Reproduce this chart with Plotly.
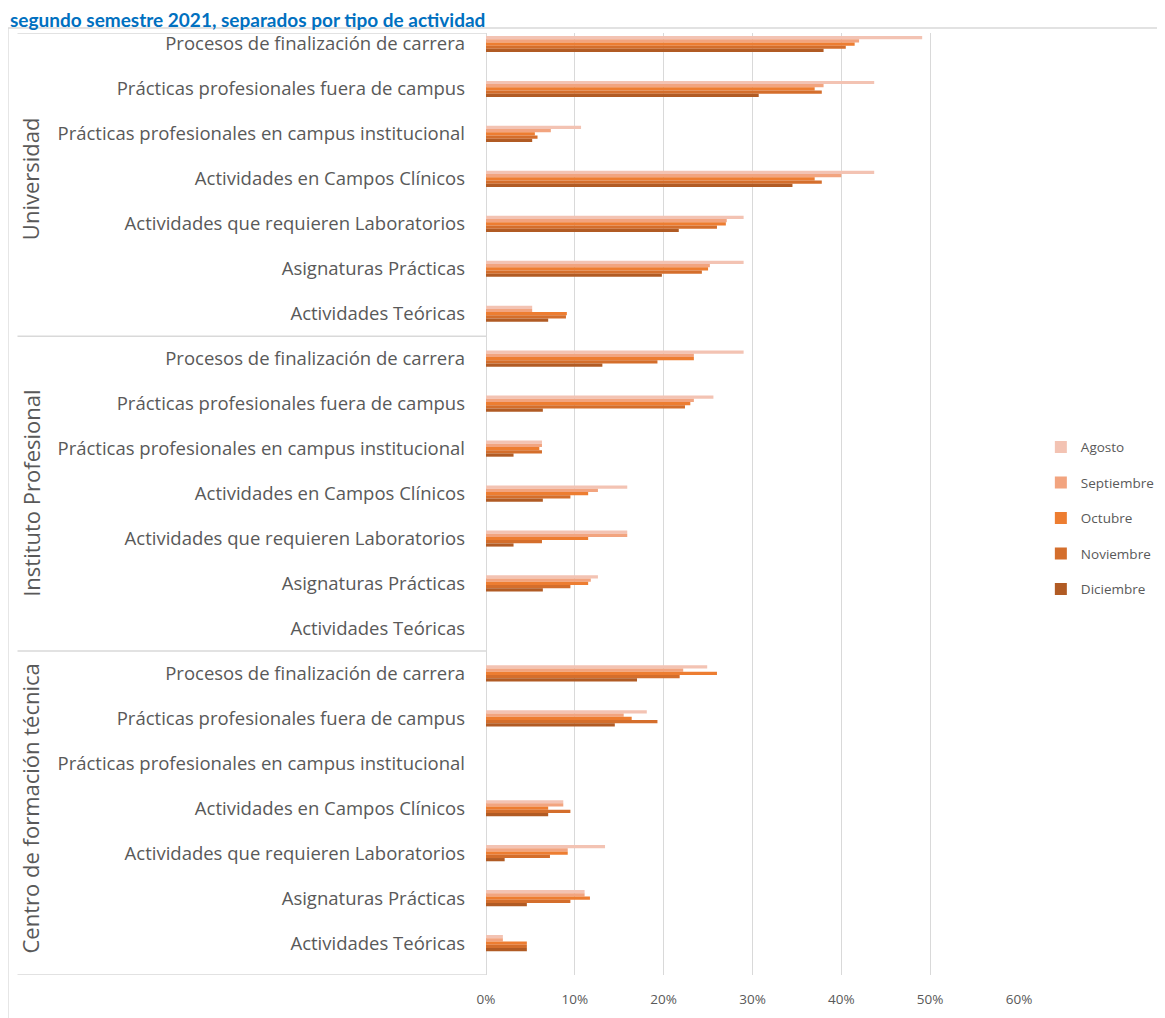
import plotly.graph_objects as go

title_text = "segundo semestre 2021, separados por tipo de actividad"

groups = ["Universidad", "Instituto Profesional", "Centro de formación técnica"]
categories = [
    "Procesos de finalización de carrera",
    "Prácticas profesionales fuera de campus",
    "Prácticas profesionales en campus institucional",
    "Actividades en Campos Clínicos",
    "Actividades que requieren Laboratorios",
    "Asignaturas Prácticas",
    "Actividades Teóricas",
]
months = ["Agosto", "Septiembre", "Octubre", "Noviembre", "Diciembre"]

# values (fraction) per month, ordered Universidad(7), Instituto Profesional(7), CFT(7)
agosto = [0.491, 0.437, 0.107, 0.437, 0.290, 0.290, 0.052,
          0.290, 0.256, 0.063, 0.159, 0.159, 0.126, 0.0,
          0.249, 0.181, 0.0, 0.087, 0.134, 0.111, 0.019]
septiembre = [0.420, 0.380, 0.073, 0.400, 0.271, 0.252, 0.052,
              0.234, 0.234, 0.063, 0.126, 0.159, 0.118, 0.0,
              0.222, 0.155, 0.0, 0.087, 0.092, 0.111, 0.019]
octubre = [0.415, 0.370, 0.055, 0.370, 0.270, 0.250, 0.091,
           0.234, 0.230, 0.060, 0.115, 0.115, 0.115, 0.0,
           0.260, 0.164, 0.0, 0.070, 0.092, 0.117, 0.046]
noviembre = [0.405, 0.378, 0.058, 0.378, 0.260, 0.243, 0.090,
             0.193, 0.224, 0.063, 0.095, 0.063, 0.095, 0.0,
             0.218, 0.193, 0.0, 0.095, 0.072, 0.095, 0.046]
diciembre = [0.380, 0.307, 0.052, 0.345, 0.217, 0.198, 0.070,
             0.131, 0.064, 0.031, 0.064, 0.031, 0.064, 0.0,
             0.170, 0.145, 0.0, 0.070, 0.021, 0.046, 0.046]

series = [agosto, septiembre, octubre, noviembre, diciembre]
colors = ["#F3C3B3", "#F2A47F", "#ED7D31", "#D46E2C", "#B15B24"]
x_ticks = [0, 0.1, 0.2, 0.3, 0.4, 0.5, 0.6]

n_cat = len(categories)
positions = [g * n_cat + c for g in range(len(groups)) for c in range(n_cat)]
tick_text = [categories[c] for g in range(len(groups)) for c in range(n_cat)]

# category band offsets (the source chart sits its bands slightly high)
y_top = -0.245
y_bottom = len(positions) - 1 + 0.71

fig = go.Figure()
for name, vals, col in zip(months, series, colors):
    fig.add_trace(go.Bar(
        x=vals, y=positions, orientation="h", name=name, legendgroup=name,
        marker=dict(color=col, line=dict(width=0)),
    ))

label_color = "#595959"
font_family = "'Open Sans', sans-serif"

# group dividers and labels
shapes = []
divider_ys = [y_top] + [k * n_cat - 0.5 for k in range(1, len(groups))] + [y_bottom]
for yb in divider_ys:
    shapes.append(dict(type="line", xref="paper", yref="y", x0=-0.879, x1=0,
                       y0=yb, y1=yb, line=dict(color="#D9D9D9", width=1.5)))
shapes.append(dict(type="rect", xref="paper", yref="paper", x0=-0.897, x1=1.3,
                   y0=-0.2, y1=1.0053, line=dict(color="#D9D9D9", width=1.5),
                   layer="below"))

annotations = []
for g, gname in enumerate(groups):
    annotations.append(dict(
        text=gname, xref="paper", yref="y", x=-0.855, y=g * n_cat + (n_cat - 1) / 2,
        showarrow=False, textangle=-90, xanchor="center", yanchor="middle",
        font=dict(size=22, color=label_color, family=font_family),
    ))
annotations.append(dict(
    text="<b>" + title_text + "</b>", xref="paper", yref="paper", x=-0.897, y=1.0265,
    xanchor="left", yanchor="top", yshift=2, showarrow=False,
    font=dict(size=19, color="#0070C0", family="Lato, 'Open Sans', sans-serif"),
))

# page body has an 8px margin: figure origin sits at (8, 8) in the window
fig.update_layout(
    width=1157, height=1010,
    margin=dict(l=478, r=146, t=25, b=43, autoexpand=False),
    plot_bgcolor="white", paper_bgcolor="white",
    barmode="group", bargap=0.64, bargroupgap=0,
    shapes=shapes, annotations=annotations,
    showlegend=True,
    legend=dict(x=1.041, y=0.485, xanchor="left", yanchor="middle",
                font=dict(size=13.5, color=label_color, family=font_family),
                itemwidth=30, tracegroupgap=15, traceorder="grouped",
                bgcolor="rgba(0,0,0,0)"),
    font=dict(family=font_family, color=label_color),
)
fig.update_xaxes(range=[0, 0.6], tickvals=x_ticks, tickformat=".0%",
                 showgrid=True, gridcolor="#D9D9D9", gridwidth=1,
                 zeroline=True, zerolinecolor="#D9D9D9", zerolinewidth=1,
                 showline=False, ticks="", ticklabelstandoff=14, automargin=False,
                 tickfont=dict(size=13.5, color=label_color, family=font_family))
fig.update_yaxes(tickvals=positions, ticktext=tick_text,
                 range=[y_bottom, y_top],
                 showgrid=False, zeroline=False, showline=False, ticks="",
                 ticklabelstandoff=20, automargin=False,
                 tickfont=dict(size=18.5, color=label_color, family=font_family))

fig.write_html("out.html")
